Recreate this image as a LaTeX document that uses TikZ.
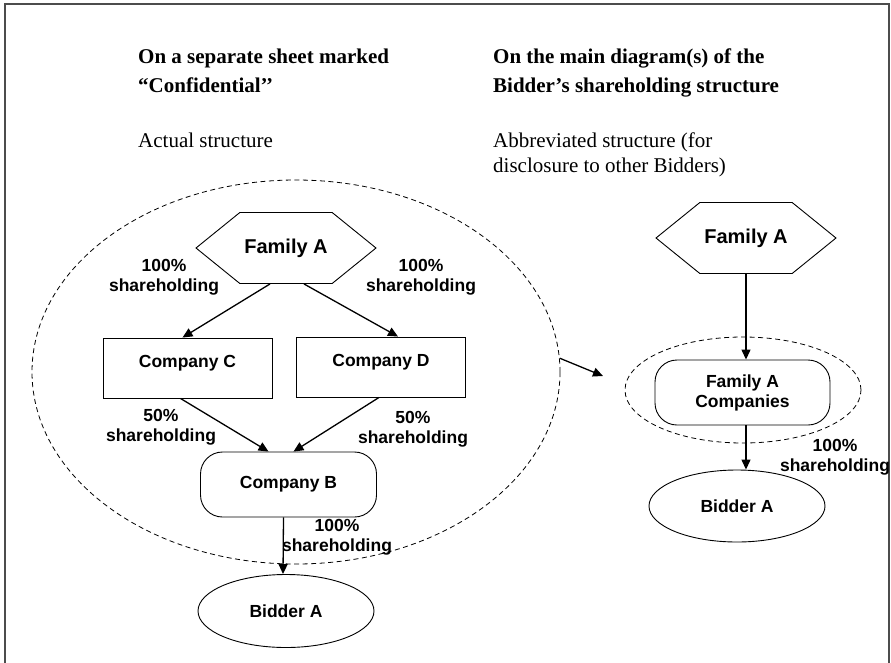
\documentclass[tikz,border=0pt]{standalone}
\usepackage{fontspec}
\setmainfont{Liberation Serif}
\newfontfamily\arialfont{Liberation Sans}
\usepackage{tikz}
\usetikzlibrary{arrows.meta,positioning,shapes.geometric,shapes.symbols}

\begin{document}
\begin{tikzpicture}[x=1pt,y=-1pt,
  >={Triangle[width=9pt,length=10pt]},
  every node/.style={inner sep=0pt},
  lbl/.style={font=\arialfont\bfseries\fontsize{17.5}{20}\selectfont, align=center},
  head/.style={anchor=base west, font=\bfseries\fontsize{21}{25}\selectfont},
  plain/.style={anchor=base west, font=\fontsize{21}{25}\selectfont},
  hexa/.style={draw, line width=0.9pt, signal, signal to=west and east,
    signal pointer angle=78, minimum width=180pt, minimum height=71pt,
    font=\arialfont\bfseries\fontsize{20}{24}\selectfont},
  cobox/.style={draw, line width=0.9pt, rectangle, minimum width=169pt,
    minimum height=60pt, lbl, text height=12pt, text depth=14pt},
  rbox/.style={draw, line width=0.9pt, rectangle, rounded corners=22pt,
    minimum width=176pt, minimum height=65pt, lbl},
  oval/.style={draw, line width=0.9pt, ellipse, minimum width=176pt,
    minimum height=73pt, lbl},
  grp/.style={draw, line width=0.8pt, ellipse, dash pattern=on 5pt off 3.5pt},
  link/.style={->, line width=1.3pt}
]
\useasboundingbox (0,0) rectangle (891,662);

% Frame (bottom edge runs off the page)
\draw[line width=2pt, black!70] (5,670) -- (5,4) -- (889,4) -- (889,670);

% Column headings
\node[head] (hdL1) at (138,63) {On a separate sheet marked};
\node[head] (hdL2) at (138,92) {“Confidential’’};
\node[plain] (subL) at (138,147) {Actual structure};
\node[head] (hdR1) at (493,63) {On the main diagram(s) of the};
\node[head] (hdR2) at (493,92) {Bidder’s shareholding structure};
\node[plain] (subR1) at (493,147) {Abbreviated structure (for};
\node[plain] (subR2) at (493,172) {disclosure to other Bidders)};

% Actual structure
\node[grp, minimum width=528pt, minimum height=384pt] (grpL) at (296,372) {};
\node[hexa] (famL) at (286,248) {Family A};
\node[cobox] (compC) at (187.5,368) {Company C};
\node[cobox] (compD) at (381,367) {Company D};
\node[rbox] (compB) at (288.5,484.5) {Company B};
\node[oval] (bidL) at (286,611) {Bidder A};

\draw[link] ([xshift=-16pt]famL.south) -- ([xshift=-5pt]compC.north);
\draw[link] ([xshift=18pt]famL.south) -- ([xshift=17pt]compD.north);
\draw[link] ([xshift=-7pt]compC.south) -- ([xshift=-20pt]compB.north);
\draw[link] ([xshift=-2pt]compD.south) -- ([xshift=5pt]compB.north);
\draw[link] ([xshift=-5pt]compB.south) -- ([xshift=-3pt]bidL.north);

\node[lbl] (shCA) at (164,277) {100\%\\shareholding};
\node[lbl] (shDA) at (421,277) {100\%\\shareholding};
\node[lbl] (shBC) at (161,427) {50\%\\shareholding};
\node[lbl] (shBD) at (413,429) {50\%\\shareholding};
\node[lbl] (shAB) at (337,537.5) {100\%\\shareholding};

% Abbreviated structure
\coordinate (abbr) at (603,376);
\draw[link] (grpL.3) -- (abbr);

\node[hexa] (famR) at (746,238) {Family A};
\node[grp, minimum width=236pt, minimum height=106pt] (grpR) at (743,390) {};
\node[rbox, minimum width=175pt] (famCo) at (742.5,392.5) {Family A\\Companies};
\node[oval, minimum height=72pt] (bidR) at (737,506) {Bidder A};

\draw[link] (famR.south) -- (famR.south |- famCo.north);
\draw[link] ([xshift=3.5pt]famCo.south) -- ([xshift=9pt]bidR.north);
\node[lbl] (shAR) at (835,457) {100\%\\shareholding};
\end{tikzpicture}
\end{document}
